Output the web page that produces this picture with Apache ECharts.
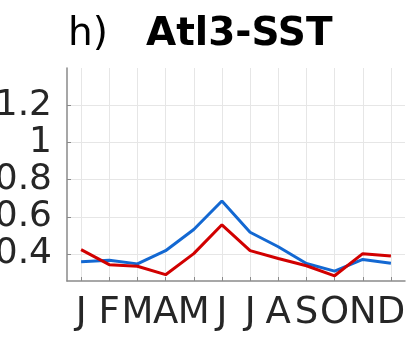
<!DOCTYPE html>
<html>
<head>
<meta charset="utf-8">
<script src="https://cdn.jsdelivr.net/npm/echarts@6/dist/echarts.min.js"></script>
<style>
  html, body { margin: 0; padding: 0; background: #fff; }
  #chart { width: 406px; height: 337px; }
</style>
</head>
<body>
<div id="chart"></div>
<script>
// Monthly values for the Atl3 SST panel
const months = ['J', 'F', 'M', 'A', 'M', 'J', 'J', 'A', 'S', 'O', 'N', 'D'];
const blueSeries = [0.359, 0.366, 0.347, 0.418, 0.532, 0.685, 0.517, 0.439, 0.349, 0.308, 0.371, 0.351];
const redSeries = [0.424, 0.343, 0.334, 0.289, 0.402, 0.557, 0.418, 0.376, 0.337, 0.283, 0.402, 0.389];
const yTicks = [0.4, 0.6, 0.8, 1, 1.2];
const monthPositions = months.map((_, i) => i + 1);

const toPoints = (vals) => vals.map((v, i) => [i + 1, v]);

const titleFont = 'DejaVu Sans';
const tickFont = 'DejaVu Sans';
const chart = echarts.init(document.getElementById('chart'), null, { renderer: 'canvas' });

chart.setOption({
  animation: false,
  backgroundColor: '#ffffff',
  title: [
    {
      text: 'h)',
      left: 63,
      top: 10,
      textStyle: { fontFamily: titleFont, fontSize: 39, fontWeight: 'normal', color: '#000000' }
    },
    {
      text: 'Atl3-SST',
      left: 141,
      top: 10,
      textStyle: { fontFamily: titleFont, fontSize: 39, fontWeight: 'bold', color: '#000000' }
    }
  ],
  grid: { left: 67, top: 68, right: 1, bottom: 56, containLabel: false, outerBoundsMode: 'none' },
  xAxis: {
    type: 'value',
    min: 0.5,
    max: 12.5,
    axisLine: { show: true, lineStyle: { color: '#8a8a8a', width: 1.5 } },
    axisTick: { show: true, inside: true, length: 4, customValues: monthPositions, lineStyle: { color: '#8a8a8a' } },
    axisLabel: {
      customValues: monthPositions,
      formatter: (v) => months[Math.round(v) - 1] || '',
      fontFamily: tickFont,
      fontSize: 37,
      color: '#262626',
      margin: 14,
      hideOverlap: false
    },
    splitLine: { show: true, lineStyle: { color: '#e6e6e6', width: 1 } }
  },
  yAxis: {
    type: 'value',
    min: 0.255,
    max: 1.4,
    axisLine: { show: true, lineStyle: { color: '#8a8a8a', width: 1.5 } },
    axisTick: { show: true, inside: true, length: 4, customValues: yTicks, lineStyle: { color: '#8a8a8a' } },
    axisLabel: {
      customValues: yTicks,
      formatter: (v) => String(Math.round(v * 10) / 10),
      fontFamily: tickFont,
      fontSize: 36,
      color: '#262626',
      margin: 15,
      hideOverlap: false
    },
    splitLine: { show: true, lineStyle: { color: '#e6e6e6', width: 1 } }
  },
  series: [
    {
      type: 'line',
      data: toPoints(blueSeries),
      symbol: 'none',
      lineStyle: { color: '#1368d2', width: 3 },
      z: 2
    },
    {
      type: 'line',
      data: toPoints(redSeries),
      symbol: 'none',
      lineStyle: { color: '#d10000', width: 3 },
      z: 3
    }
  ]
});
</script>
</body>
</html>
